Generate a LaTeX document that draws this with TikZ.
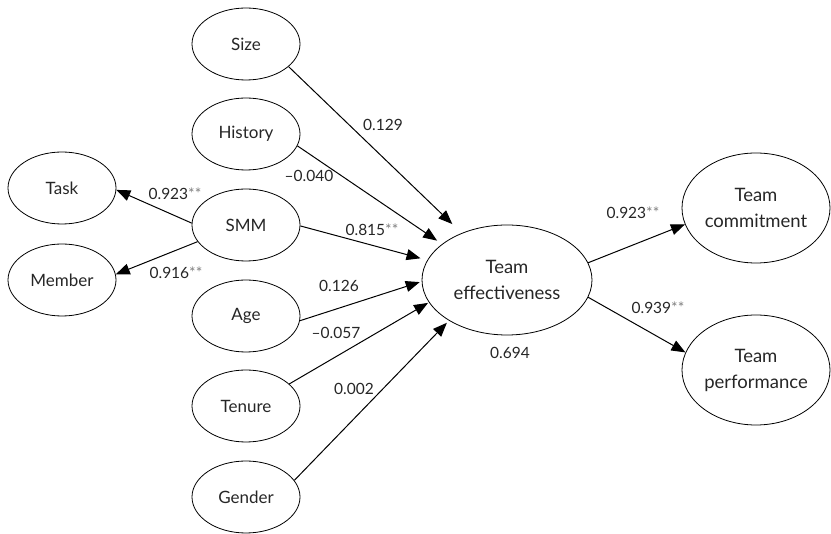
\documentclass[tikz,border=0pt]{standalone}
\usepackage{fontspec}
\setmainfont{Lato}
\usepackage{tikz}
\usetikzlibrary{shapes.geometric, arrows.meta}
\tikzset{var/.style={ellipse, draw, line width=0.8pt, inner sep=0pt, minimum width=108pt, minimum height=72pt, text=black!85, font=\fontsize{17}{20}\selectfont},
  big/.style={var, minimum width=148pt, minimum height=110pt, align=center, font=\fontsize{18.5}{26}\selectfont},
  path/.style={line width=1pt, -{Triangle[length=14pt,width=11pt]}},
  coef/.style={font=\fontsize{15.5}{18}\selectfont, text=black!85, inner sep=0pt}}
\newcommand{\sig}{\textcolor{gray}{**}}

\begin{document}
\begin{tikzpicture}[x=1pt, y=-1pt]
  \useasboundingbox (0,0) rectangle (831,534);
  % exogenous variables
  \node [var] (size) at (246,44) {Size};
  \node [var] (hist) at (246,134) {History};
  \node [var] (smm) at (246,225) {SMM};
  \node [var] (age) at (246,316) {Age};
  \node [var] (ten) at (246,406) {Tenure};
  \node [var] (gen) at (246,497) {Gender};
  \node [var] (task) at (62,188) {Task};
  \node [var] (mem) at (62,280) {Member};
  % team outcomes
  \node [big, minimum width=170pt] (te) at (507,280) {Team\\effectiveness};
  \node [big] (com) at (756,208) {Team\\commitment};
  \node [big] (perf) at (756,370) {Team\\performance};
  % paths
  \draw [path, shorten >=13pt] (size.-28) -- (te.134);
  \draw [path, shorten >=6pt] (hist.-13) -- (te.151);
  \draw [path, shorten >=7pt] (smm.-1) -- (te.166);
  \draw [path, shorten >=2pt] (age.-5) -- (te.181);
  \draw [path, shorten >=1pt] (ten.27) -- (te.196);
  \draw [path, shorten >=3pt] (gen.19) -- (te.215);
  \draw [path] (smm.178) -- (task.-2);
  \draw [path] (smm.199) -- (mem.6);
  \draw [path] (te.12) -- (com.193);
  \draw [path] (te.-12) -- (perf.166);
  % coefficients
  \node [coef] (c1) at (383,125) {0.129};
  \node [coef] (c2) at (309,176) {--0.040};
  \node [coef] (c3) at (372,230) {0.815\sig};
  \node [coef] (c4) at (175,194) {0.923\sig};
  \node [coef] (c5) at (176,273) {0.916\sig};
  \node [coef] (c6) at (339,286) {0.126};
  \node [coef] (c7) at (336,333) {--0.057};
  \node [coef] (c8) at (354,389) {0.002};
  \node [coef] (r2) at (510,353) {0.694};
  \node [coef] (c9) at (633,213) {0.923\sig};
  \node [coef] (c10) at (658,308) {0.939\sig};
\end{tikzpicture}
\end{document}
